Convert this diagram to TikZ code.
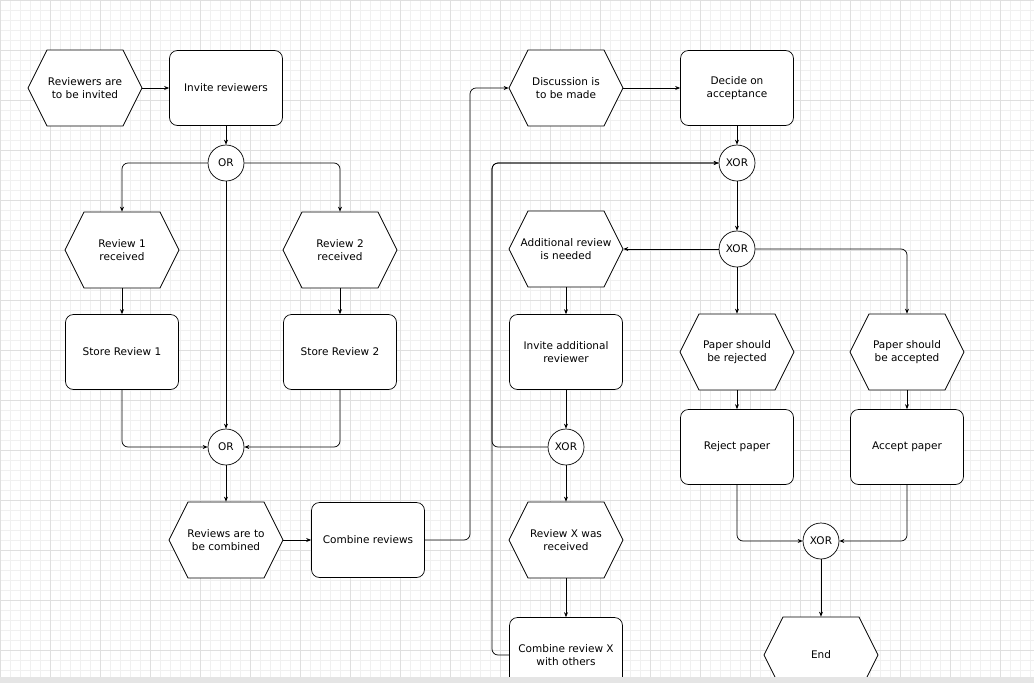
\documentclass[tikz,border=0pt]{standalone}
\usepackage{fontspec}
\setmainfont{DejaVu Sans}
\usetikzlibrary{arrows.meta}
\newcommand\hexnode[3]{%
 \draw[fill=white,line width=0.7] #2 ++(-57,0) -- ++(19,-38) -- ++(76,0) -- ++(19,38) -- ++(-19,38) -- ++(-76,0) -- cycle;
 \node[minimum width=114,minimum height=76,inner sep=0pt,align=center] (#1) at #2 {#3};}
\begin{document}
\begin{tikzpicture}[x=1pt,y=-1pt,
 font=\fontsize{10.5}{13}\selectfont,
 box/.style={draw,rounded corners=8,minimum width=113,minimum height=75,align=center,fill=white},
 gate/.style={draw,circle,minimum size=36,inner sep=0pt,fill=white},
 ar/.style={-{Stealth[length=5,width=4]},rounded corners=6},
 every path/.append style={line width=0.7}]
\useasboundingbox (0,0) rectangle (1034,683);
\fill[white] (0,0) rectangle (1034,683);
\foreach \i in {0,10,...,1030} \draw[gray!12,line width=0.4] (\i,0) -- (\i,683);
\foreach \i in {0,10,...,680} \draw[gray!12,line width=0.4] (0,\i) -- (1034,\i);
\foreach \i in {0,50,...,1030} \draw[gray!25,line width=0.5] (\i,0) -- (\i,683);
\foreach \i in {0,50,...,680} \draw[gray!25,line width=0.5] (0,\i) -- (1034,\i);
\hexnode{h1}{(85,88)}{Reviewers are\\to be invited}
\node[box] (b1) at (226,88) {Invite reviewers};
\node[gate] (o1) at (226,163) {OR};
\hexnode{r1}{(122,250)}{Review 1\\received}
\hexnode{r2}{(340,250)}{Review 2\\received}
\node[box] (s1) at (122,352) {Store Review 1};
\node[box] (s2) at (340,352) {Store Review 2};
\node[gate] (o2) at (226,447) {OR};
\hexnode{h2}{(226,540)}{Reviews are to\\be combined}
\node[box] (b2) at (368,540) {Combine reviews};
\hexnode{h3}{(566,88)}{Discussion is\\to be made}
\node[box] (b3) at (737,88) {Decide on\\acceptance};
\node[gate] (x1) at (737,163) {XOR};
\node[gate] (x2) at (737,249) {XOR};
\hexnode{h4}{(566,249)}{Additional review\\is needed}
\node[box] (b4) at (566,352) {Invite additional\\reviewer};
\node[gate] (x3) at (566,447) {XOR};
\hexnode{h5}{(566,540)}{Review X was\\received}
\node[box] (b5) at (566,655) {Combine review X\\with others};
\hexnode{h6}{(737,352)}{Paper should\\be rejected}
\hexnode{h7}{(907,352)}{Paper should\\be accepted}
\node[box] (b6) at (737,447) {Reject paper};
\node[box] (b7) at (907,447) {Accept paper};
\node[gate] (x4) at (821,541) {XOR};
\hexnode{h8}{(821,655)}{End}
\coordinate (lp) at (492,163);
\coordinate (rp) at (470,540);
\draw[ar] (h1) -- (b1);
\draw[ar] (b1) -- (o1);
\draw[ar] (o1) -| (r1);
\draw[ar] (o1) -| (r2);
\draw[ar] (o1) -- (o2);
\draw[ar] (r1) -- (s1);
\draw[ar] (r2) -- (s2);
\draw[ar] (s1) |- (o2);
\draw[ar] (s2) |- (o2);
\draw[ar] (o2) -- (h2);
\draw[ar] (h2) -- (b2);
\draw[ar] (b2) -- (rp) |- (h3);
\draw[ar] (h3) -- (b3);
\draw[ar] (b3) -- (x1);
\draw[ar] (x1) -- (x2);
\draw[ar] (x2) -- (h4);
\draw[ar] (x2.south) -- (h6);
\draw[ar] (x2) -| (h7);
\draw[ar] (h4) -- (b4);
\draw[ar] (b4) -- (x3);
\draw[ar] (x3) -- (h5);
\draw[ar] (h5) -- (b5);
\draw[ar] (x3) -| (lp) -- (x1);
\draw[ar] (b5.west) -| (lp) -- (x1);
\draw[ar] (h6) -- (b6);
\draw[ar] (h7) -- (b7);
\draw[ar] (b6) |- (x4);
\draw[ar] (b7) |- (x4);
\draw[ar] (x4) -- (h8);
\fill[gray!20] (0,677) rectangle (1034,683);
\end{tikzpicture}
\end{document}
